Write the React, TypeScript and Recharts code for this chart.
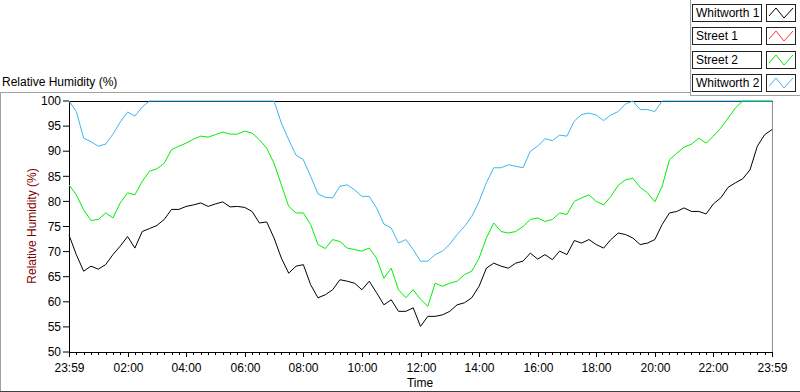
import React from 'react';
import { LineChart, Line, XAxis, YAxis } from 'recharts';

// samples every 15 min, starting 23:59
const STEP_H = 0.25;

const whitworth1 = [
  73.3, 69.4, 66.1, 67.1, 66.5, 67.4, 69.4, 71.1, 73.0, 70.7, 74.0, 74.6, 75.2, 76.4, 78.4, 78.4,
  79.0, 79.3, 79.7, 79.0, 79.5, 79.9, 78.9, 79.0, 78.8, 78.0, 75.7, 75.9, 72.7, 68.7, 65.7, 67.1,
  67.4, 63.4, 60.8, 61.4, 62.4, 64.4, 64.1, 63.7, 62.4, 64.1, 61.8, 59.4, 60.4, 58.1, 58.1, 58.8,
  55.1, 57.1, 57.1, 57.4, 58.1, 59.4, 59.8, 60.8, 63.1, 66.7, 67.7, 67.1, 66.7, 67.7, 68.1, 69.7,
  68.5, 69.4, 68.4, 70.1, 69.4, 72.2, 71.7, 72.4, 71.4, 70.7, 72.4, 73.7, 73.4, 72.7, 71.4, 71.7,
  72.4, 75.4, 77.7, 78.0, 78.7, 78.0, 78.0, 77.5, 79.5, 80.7, 82.8, 83.7, 84.5, 86.3, 91.0, 93.3,
  94.3,
];

const street1: (number | null)[] = []; // no readings logged

const street2 = [
  83.3, 81.3, 78.3, 76.2, 76.4, 77.7, 76.7, 79.7, 81.7, 81.3, 84.0, 86.0, 86.5, 87.6, 90.3, 91.0,
  91.6, 92.4, 93.0, 92.8, 93.3, 93.8, 93.4, 93.4, 94.0, 93.6, 92.3, 90.6, 87.6, 83.3, 79.0, 77.7,
  77.7, 75.4, 71.4, 70.6, 72.4, 72.0, 70.7, 70.4, 70.1, 70.7, 68.7, 64.7, 66.7, 62.4, 60.8, 62.4,
  60.5, 59.1, 63.7, 63.1, 63.7, 64.1, 65.4, 66.1, 68.7, 72.7, 75.7, 74.0, 73.7, 74.0, 75.0, 76.4,
  76.7, 76.0, 76.4, 77.7, 77.4, 80.0, 80.7, 81.3, 80.0, 79.3, 81.0, 83.2, 84.3, 84.6, 82.8, 81.7,
  79.9, 83.0, 88.3, 89.6, 90.8, 91.4, 92.6, 91.6, 93.0, 94.6, 96.6, 98.6, 100, 100, 100, 100,
  100,
];

const whitworth2 = [
  100, 97.9, 92.6, 91.9, 91.0, 91.4, 93.4, 95.8, 97.8, 97.0, 98.8, 100, 100, 100, 100, 100,
  100, 100, 100, 100, 100, 100, 100, 100, 100, 100, 100, 100, 100, 95.6, 92.3, 89.2,
  88.3, 85.0, 81.5, 80.8, 80.7, 83.0, 83.3, 82.3, 81.0, 81.0, 78.7, 75.5, 74.7, 71.7, 72.4, 70.4,
  68.1, 68.1, 69.4, 70.1, 71.5, 73.4, 75.0, 77.0, 80.0, 83.7, 86.7, 86.7, 87.3, 87.0, 86.7, 90.0,
  91.0, 92.5, 92.1, 93.2, 93.0, 96.0, 97.3, 97.6, 97.2, 96.1, 97.2, 97.9, 99.4, 100, 98.3, 98.3,
  97.9, 100, 100, 100, 100, 100, 100, 100, 100, 100, 100, 100, 100, 100, 100, 100,
  100,
];

const xTickLabels = ['23:59', '02:00', '04:00', '06:00', '08:00', '10:00', '12:00', '14:00', '16:00', '18:00', '20:00', '22:00', '23:59'];
const yTicks = [50, 55, 60, 65, 70, 75, 80, 85, 90, 95, 100];

const series = [
  { key: 'whitworth1', name: 'Whitworth 1', color: '#000000' },
  { key: 'street1', name: 'Street 1', color: '#ff3333' },
  { key: 'street2', name: 'Street 2', color: '#00f000' },
  { key: 'whitworth2', name: 'Whitworth 2', color: '#3db6f2' },
];

const data = whitworth1.map((v, i) => ({
  t: i * STEP_H,
  whitworth1: v,
  street1: street1[i] ?? null,
  street2: street2[i],
  whitworth2: whitworth2[i],
}));

const minorTicks = data.map((d) => d.t);

const FONT = '"Liberation Sans", Arial, sans-serif';

const TimeTick = (props: any) => {
  const { x, y, payload } = props;
  const v = payload.value as number;
  const major = Math.abs(v / 2 - Math.round(v / 2)) < 1e-6;
  const px = Math.round(x) + 0.5;
  return (
    <g>
      <line x1={px} x2={px} y1={y} y2={y + (major ? 5 : 3)} stroke="#000" />
      {major && (
        <text x={px} y={y + 20} textAnchor="middle" fontSize={12} fontFamily={FONT} fill="#000">
          {xTickLabels[Math.round(v / 2)]}
        </text>
      )}
    </g>
  );
};

const Legend = () => (
  <>
    {series.map((s, i) => (
      <React.Fragment key={s.key}>
        <div
          style={{
            position: 'absolute', left: 692, top: 4 + i * 23.4, width: 70, height: 18,
            boxSizing: 'border-box', border: '1px solid #222', background: '#fff',
            fontSize: 12, lineHeight: '16px', paddingLeft: 3, whiteSpace: 'nowrap',
          }}
        >
          {s.name}
        </div>
        <svg
          width={30} height={18}
          style={{ position: 'absolute', left: 766, top: 4 + i * 23.4 }}
        >
          <rect x={0.5} y={0.5} width={29} height={17} fill="#fff" stroke="#222" />
          <polyline points="3,12 10,4 18,14 27,4" fill="none" stroke={s.color} strokeWidth={1} />
        </svg>
      </React.Fragment>
    ))}
  </>
);

export default function App() {
  return (
    <div style={{ position: 'absolute', left: 0, top: 0, width: 800, height: 392, background: '#fff', fontFamily: FONT, color: '#000' }}>
      {/* panel frame */}
      <div style={{ position: 'absolute', left: 0, top: 92, width: 690, height: 1, background: '#a0a0a0' }} />
      <div style={{ position: 'absolute', left: 0, top: 92, width: 1, height: 300, background: '#a0a0a0' }} />
      <div style={{ position: 'absolute', left: 0, top: 391, width: 800, height: 1, background: '#404040' }} />
      <div style={{ position: 'absolute', left: 690, top: 0, width: 1, height: 96, background: '#a0a0a0' }} />
      <div style={{ position: 'absolute', left: 690, top: 95, width: 110, height: 1, background: '#a0a0a0' }} />
      <div style={{ position: 'absolute', left: 2, top: 75, fontSize: 12 }}>Relative Humidity (%)</div>
      {/* plot border */}
      <div
        style={{
          position: 'absolute', left: 69, top: 101, width: 704, height: 252, boxSizing: 'border-box',
          borderTop: '1px solid #000', borderLeft: '1px solid #000', borderBottom: '1px solid #000', borderRight: '1px solid #909090',
        }}
      />
      <div
        style={{
          position: 'absolute', left: 32, top: 226, transform: 'translate(-50%, -50%) rotate(-90deg)',
          fontSize: 12, color: '#800000', whiteSpace: 'nowrap',
        }}
      >
        Relative Humidity (%)
      </div>
      <div style={{ position: 'absolute', left: 420, top: 376, transform: 'translateX(-50%)', fontSize: 12 }}>Time</div>
      <div style={{ position: 'absolute', left: 0, top: 0 }}>
        <LineChart width={800} height={392} data={data} margin={{ top: 101, right: 28, bottom: 0, left: 0 }}>
          <XAxis
            dataKey="t"
            type="number"
            domain={[0, 24]}
            ticks={minorTicks}
            interval={0}
            axisLine={false}
            tickLine={false}
            tickSize={0}
            tickMargin={0}
            height={40}
            tick={<TimeTick />}
          />
          <YAxis
            type="number"
            domain={[50, 100]}
            ticks={yTicks}
            interval={0}
            width={69}
            axisLine={false}
            tickLine={{ stroke: '#000' }}
            tickSize={6}
            tickMargin={2}
            tick={{ fill: '#000', fontSize: 12, fontFamily: FONT }}
          />
          {series.map((s) => (
            <Line
              key={s.key}
              dataKey={s.key}
              name={s.name}
              type="linear"
              stroke={s.color}
              strokeWidth={1}
              dot={false}
              activeDot={false}
              connectNulls={false}
              isAnimationActive={false}
            />
          ))}
        </LineChart>
      </div>
      <Legend />
    </div>
  );
}
